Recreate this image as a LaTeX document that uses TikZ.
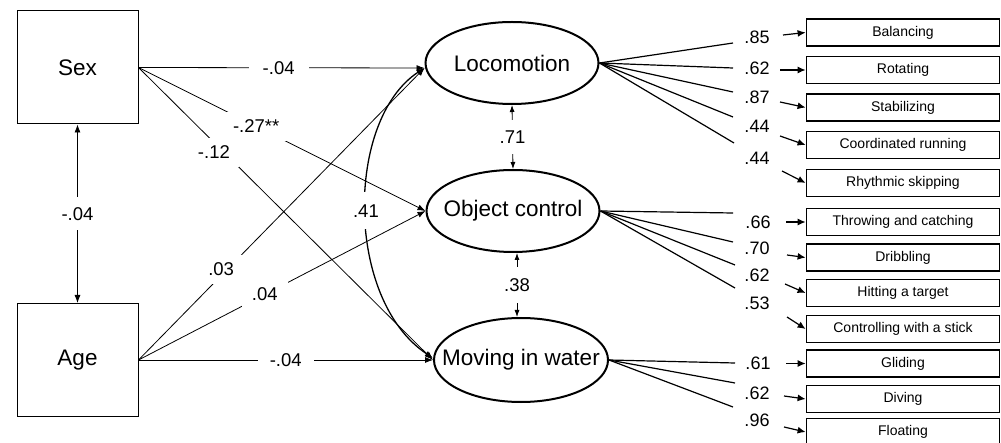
\documentclass[tikz,border=0pt]{standalone}
\usepackage{fontspec}
\setmainfont{Liberation Sans}
\usetikzlibrary{arrows.meta,shapes.geometric}
\begin{document}
\begin{tikzpicture}[x=1pt,y=-1pt,
  obs/.style={draw, line width=1pt, minimum width=121pt, minimum height=113pt, inner sep=0pt, font=\fontsize{22.5}{26}\selectfont},
  lat/.style={ellipse, draw, line width=2pt, minimum width=173pt, minimum height=82pt, inner sep=0pt, font=\fontsize{22.5}{26}\selectfont},
  ind/.style={draw, line width=1.8pt, minimum width=193pt, minimum height=27pt, inner sep=0pt, font=\fontsize{14}{16}\selectfont},
  pth/.style={line width=0.8pt, -{Latex[length=8pt,width=6pt]}},
  elab/.style={fill=white, font=\fontsize{18.5}{22}\selectfont, inner xsep=10pt, inner ysep=8pt},
  load/.style={font=\fontsize{18}{20}\selectfont, inner sep=0pt},
  ldline/.style={line width=1.2pt},
  ldarrow/.style={line width=1.2pt, -{Latex[length=8pt,width=7pt]}}
]
\useasboundingbox (0,0) rectangle (1001,443);

% observed predictors
\node[obs] (sex) at (77.5,67.5) {Sex};
\node[obs] (age) at (77.5,360) {Age};

% latent factors
\node[lat] (loc) at (512,63) {\makebox[0pt]{Locomotion}};
\node[lat] (oc) at (513,211) {\makebox[0pt]{Object control}};
\node[lat, minimum width=174pt, minimum height=84pt] (mov) at (521,360) {\makebox[0pt]{Moving in water}};

\coordinate (locin) at ([yshift=-5pt]loc.west);
\coordinate (movin) at ([yshift=2pt]mov.west);

% structural paths
\draw[pth] (sex.east) -- node[elab,pos=0.49,inner xsep=14pt]{-.04} (locin);
\draw[pth] (sex.east) -- node[elab,pos=0.41]{-.27**} (oc.west);
\draw[pth] (sex.east) -- node[elab,pos=0.29,xshift=-10pt,inner xsep=9pt]{-.12} (mov.west);
\draw[pth] (age.east) -- node[elab,pos=0.31,xshift=-6pt,inner xsep=8pt]{.03} (locin);
\draw[pth] (age.east) -- node[elab,pos=0.44]{.04} (oc.west);
\draw[pth] (age.east) -- node[elab,pos=0.5,inner xsep=12pt]{-.04} (mov.west);

% covariances
\draw[line width=0.8pt, {Latex[length=8pt,width=6pt]}-{Latex[length=8pt,width=6pt]}] (sex.south) -- node[elab,inner ysep=10pt]{-.04} (age.north);
\draw[line width=1.3pt, {Latex[length=8pt,width=6pt]}-{Latex[length=8pt,width=6pt]}] (locin) .. controls (345,120) and (345,300) .. node[elab,pos=0.5,inner xsep=4pt,inner ysep=12pt]{.41} (movin);
\draw[line width=0.8pt, {Latex[length=7pt,width=5pt]}-{Latex[length=7pt,width=5pt]}] (loc.south) -- node[elab,inner ysep=11pt,inner xsep=4pt]{.71} (oc.north);
\draw[line width=0.8pt, {Latex[length=7pt,width=5pt]}-{Latex[length=7pt,width=5pt]}] ([xshift=4pt]oc.south) -- node[elab,inner ysep=11pt,inner xsep=4pt]{.38} ([xshift=-4pt]mov.north);

% indicators
\node[ind] (b1) at (903,32.5) {Balancing};
\node[ind] (b2) at (903,70) {Rotating};
\node[ind] (b3) at (903,107.5) {Stabilizing};
\node[ind] (b4) at (903,145) {Coordinated running};
\node[ind] (b5) at (903,183) {Rhythmic skipping};
\node[ind] (b6) at (903,222) {Throwing and catching};
\node[ind] (b7) at (903,257.5) {Dribbling};
\node[ind] (b8) at (903,293) {Hitting a target};
\node[ind] (b9) at (903,329) {Controlling with a stick};
\node[ind] (b10) at (903,363.5) {Gliding};
\node[ind] (b11) at (903,399) {Diving};
\node[ind] (b12) at (903,432) {Floating};

% loading labels
\node[load] (l1) at (757,37) {.85};
\node[load] (l2) at (757,68) {.62};
\node[load] (l3) at (757,97) {.87};
\node[load] (l4) at (757,126) {.44};
\node[load] (l5) at (757,158) {.44};
\node[load] (l6) at (758,222) {.66};
\node[load] (l7) at (757,248) {.70};
\node[load] (l8) at (757,275) {.62};
\node[load] (l9) at (757,303) {.53};
\node[load] (l10) at (758,363) {.61};
\node[load] (l11) at (757,393) {.62};
\node[load] (l12) at (757,420) {.96};

% loading line ends
\coordinate (e1) at (733,43);
\coordinate (e2) at (733,68);
\coordinate (e3) at (733,92);
\coordinate (e4) at (733,117);
\coordinate (e5) at (734,143);
\coordinate (e6) at (733,213);
\coordinate (e7) at (733,242);
\coordinate (e8) at (735,265);
\coordinate (e9) at (735,288);
\coordinate (e10) at (735,363);
\coordinate (e11) at (735,383);
\coordinate (e12) at (733,407);

\foreach \i in {1,...,5} {\draw[ldline] (loc.east) -- (e\i);}
\foreach \i in {6,...,9} {\draw[ldline] (oc.east) -- (e\i);}
\foreach \i in {10,...,12} {\draw[ldline] (mov.east) -- (e\i);}

% arrow starts
\coordinate (a1) at (783,35);
\coordinate (a2) at (780,70);
\coordinate (a3) at (780,102);
\coordinate (a4) at (780,136);
\coordinate (a5) at (782,171);
\coordinate (a6) at (786,222);
\coordinate (a7) at (787,255);
\coordinate (a8) at (785,284);
\coordinate (a9) at (787,317);
\coordinate (a10) at (786,363.5);
\coordinate (a11) at (784,396);
\coordinate (a12) at (784,427);

\foreach \i in {1,...,12} {\draw[ldarrow] (a\i) -- (b\i.west);}
\end{tikzpicture}
\end{document}
